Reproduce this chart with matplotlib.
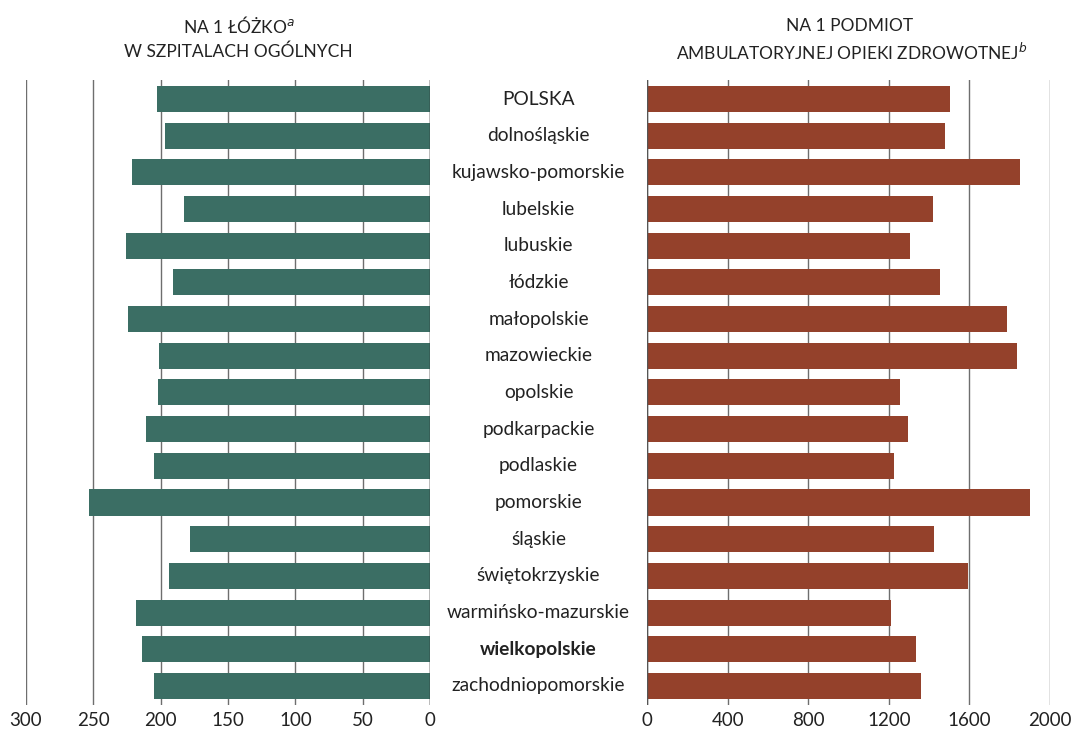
import numpy as np
import matplotlib.pyplot as plt
import matplotlib.transforms as mtransforms

plt.rcParams['font.family'] = ['Lato', 'DejaVu Sans']

regions = ['POLSKA', 'dolnośląskie', 'kujawsko-pomorskie', 'lubelskie', 'lubuskie',
           'łódzkie', 'małopolskie', 'mazowieckie', 'opolskie', 'podkarpackie',
           'podlaskie', 'pomorskie', 'śląskie', 'świętokrzyskie',
           'warmińsko-mazurskie', 'wielkopolskie', 'zachodniopomorskie']

# persons per 1 bed in general hospitals
per_bed = [203, 197, 221, 183, 226, 191, 224, 201, 202, 211,
           205, 253, 178, 194, 218, 214, 205]

# persons per 1 outpatient health care unit
per_unit = [1504, 1479, 1851, 1419, 1305, 1454, 1787, 1836, 1256, 1295,
            1226, 1901, 1424, 1593, 1211, 1335, 1360]

left_ticks = [300, 250, 200, 150, 100, 50, 0]
right_ticks = [0, 400, 800, 1200, 1600, 2000]

green = '#3b6e64'
brown = '#94412b'
grid_col = '#6e6e6e'

fig = plt.figure(figsize=(10.74, 7.31), dpi=100)
ax_l = fig.add_axes([0.0242, 0.0356, 0.3762, 0.855])
ax_r = fig.add_axes([0.6024, 0.0356, 0.3753, 0.855])

y = np.arange(len(regions))

ax_l.barh(y, per_bed, height=0.71, color=green, zorder=3)
ax_l.set_xlim(300, 0)
ax_r.barh(y, per_unit, height=0.71, color=brown, zorder=3)
ax_r.set_xlim(0, 2000)

for ax, ticks in ((ax_l, left_ticks), (ax_r, right_ticks)):
    ax.set_ylim(16.52, -0.52)
    ax.set_xticks(ticks)
    ax.set_xticklabels([str(t) for t in ticks], fontsize=13.5, color='#222222')
    ax.set_yticks([])
    ax.tick_params(axis='x', length=0, pad=5)
    for s in ax.spines.values():
        s.set_visible(False)
    for t in ticks:
        ax.axvline(t, color=grid_col, lw=1.0, zorder=1)

# zero lines darker
ax_l.axvline(0, color='#222222', lw=1.0, zorder=4)
ax_r.axvline(0, color='#555555', lw=1.0, zorder=4)

trans = mtransforms.blended_transform_factory(fig.transFigure, ax_l.transData)
for i, name in enumerate(regions):
    ax_l.text(0.5015, i, name, transform=trans, ha='center', va='center',
              fontsize=13.8, color='#222222',
              fontweight='bold' if name == 'wielkopolskie' else 'normal',
              clip_on=False)

fig.text(0.222, 0.965, r'NA 1 ŁÓŻKO$^{a}$', ha='center', va='center',
         fontsize=12.5, color='#222222')
fig.text(0.222, 0.929, 'W SZPITALACH OGÓLNYCH', ha='center', va='center',
         fontsize=12.5, color='#222222')
fig.text(0.791, 0.965, 'NA 1 PODMIOT', ha='center', va='center',
         fontsize=12.5, color='#222222')
fig.text(0.793, 0.929, r'AMBULATORYJNEJ OPIEKI ZDROWOTNEJ$^{b}$', ha='center',
         va='center', fontsize=12.5, color='#222222')

fig.savefig('out.png', dpi=100)
